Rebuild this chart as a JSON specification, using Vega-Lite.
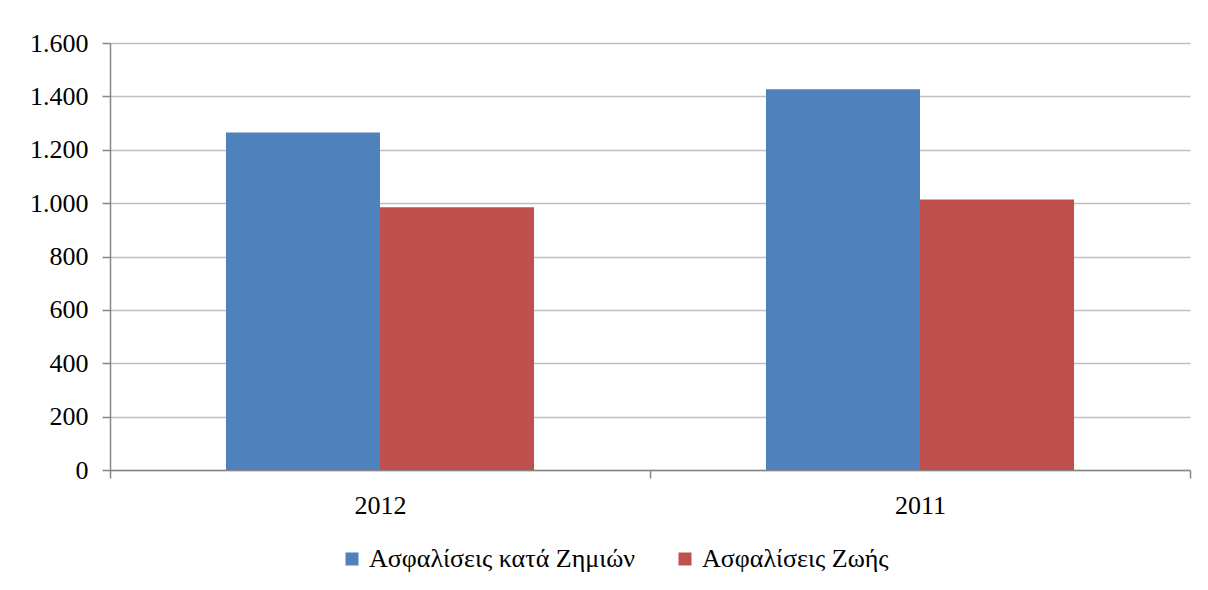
{
  "$schema": "https://vega.github.io/schema/vega-lite/v6.json",
  "width": 1080,
  "height": 427,
  "autosize": {"type": "none"},
  "padding": {"left": 110, "top": 43, "right": 18, "bottom": 120},
  "background": "white",
  "config": {
    "view": {"stroke": null},
    "font": "Liberation Serif",
    "axis": {"labelFont": "Liberation Serif", "labelFontSize": 26},
    "legend": {"labelFont": "Liberation Serif", "labelFontSize": 26}
  },
  "data": {
    "values": [
      {"year": "2012", "type": "Ασφαλίσεις κατά Ζημιών", "value": 1265},
      {"year": "2012", "type": "Ασφαλίσεις Ζωής", "value": 985},
      {"year": "2011", "type": "Ασφαλίσεις κατά Ζημιών", "value": 1427},
      {"year": "2011", "type": "Ασφαλίσεις Ζωής", "value": 1014}
    ]
  },
  "mark": {"type": "bar"},
  "encoding": {
    "x": {
      "field": "year",
      "type": "nominal",
      "sort": ["2012", "2011"],
      "scale": {"paddingInner": 0, "paddingOuter": 0},
      "axis": {
        "title": null,
        "labelAngle": 0,
        "labelColor": "black",
        "labelPadding": 14,
        "tickBand": "extent",
        "tickSize": 8,
        "tickColor": "#868686",
        "domainColor": "#868686",
        "domainWidth": 1.5,
        "tickWidth": 1.5,
        "grid": false
      }
    },
    "xOffset": {
      "field": "type",
      "type": "nominal",
      "sort": ["Ασφαλίσεις κατά Ζημιών", "Ασφαλίσεις Ζωής"],
      "scale": {"paddingInner": 0, "paddingOuter": 0.753}
    },
    "y": {
      "field": "value",
      "type": "quantitative",
      "scale": {"domain": [0, 1600], "nice": false},
      "axis": {
        "title": null,
        "values": [0, 200, 400, 600, 800, 1000, 1200, 1400, 1600],
        "labelExpr": "replace(format(datum.value, ','), ',', '.')",
        "labelColor": "black",
        "labelPadding": 14,
        "tickSize": 8,
        "tickColor": "#868686",
        "tickWidth": 1.5,
        "domainColor": "#868686",
        "domainWidth": 1.5,
        "gridColor": "#BFBFBF",
        "gridWidth": 1.5
      }
    },
    "color": {
      "field": "type",
      "type": "nominal",
      "sort": ["Ασφαλίσεις κατά Ζημιών", "Ασφαλίσεις Ζωής"],
      "scale": {"range": ["#4F81BD", "#C0504D"]},
      "legend": {
        "title": null,
        "orient": "none",
        "direction": "horizontal",
        "legendX": 229,
        "legendY": 503,
        "symbolType": "square",
        "symbolSize": 169,
        "symbolStrokeWidth": 0,
        "labelColor": "black",
        "labelOffset": 4,
        "columnPadding": 36,
        "labelLimit": 400
      }
    }
  }
}
